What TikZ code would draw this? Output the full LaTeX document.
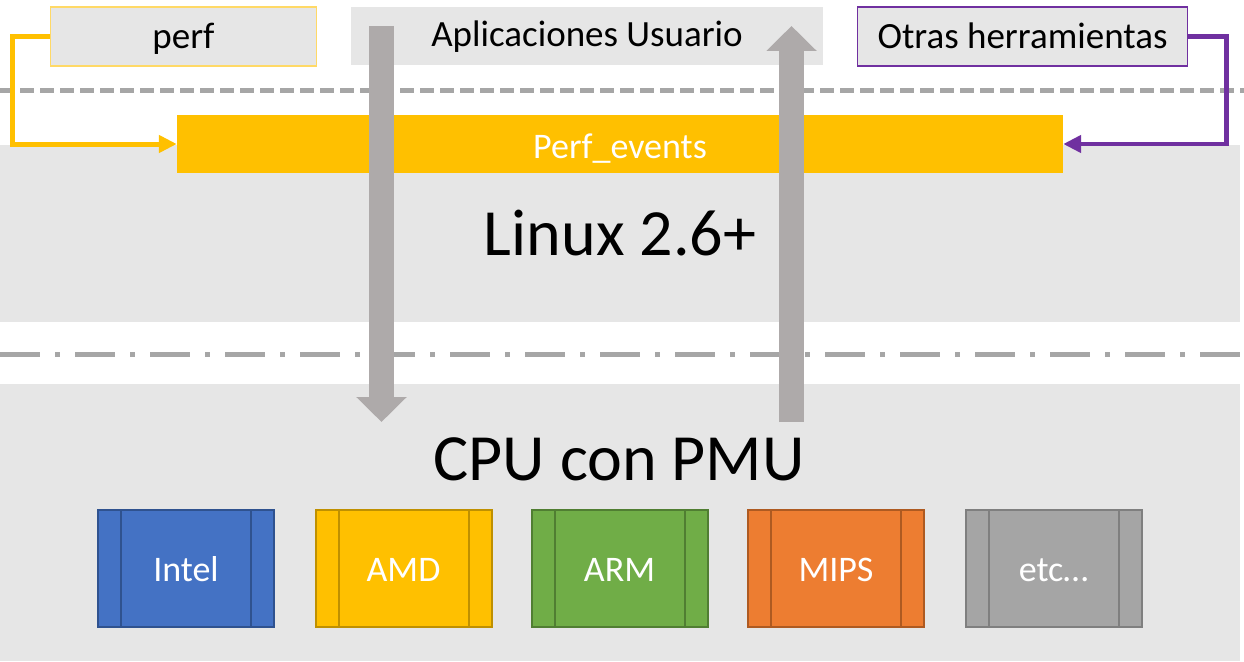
\documentclass[tikz,border=0pt]{standalone}
\usepackage{fontspec}
\setmainfont{Carlito}
\usetikzlibrary{arrows.meta}
\definecolor{bandgray}{HTML}{E6E6E6}
\definecolor{arrowgray}{HTML}{AEAAAA}
\definecolor{linegray}{HTML}{A6A6A6}
\definecolor{pyellow}{HTML}{FFC000}
\definecolor{pyellowlight}{HTML}{FFD966}
\definecolor{ppurple}{HTML}{7030A0}
\definecolor{intelfill}{HTML}{4472C4}
\definecolor{intelline}{HTML}{2F528F}
\definecolor{amdfill}{HTML}{FFC000}
\definecolor{amdline}{HTML}{BF9000}
\definecolor{armfill}{HTML}{70AD47}
\definecolor{armline}{HTML}{507E32}
\definecolor{mipsfill}{HTML}{ED7D31}
\definecolor{mipsline}{HTML}{AE5A21}
\definecolor{etcfill}{HTML}{A5A5A5}
\definecolor{etcline}{HTML}{7F7F7F}
\tikzset{
  topbox/.style={rectangle, fill=bandgray, inner sep=0pt, minimum height=59pt,
    font=\fontsize{37}{40}\selectfont, text height=33pt, text depth=9pt},
  kernelbar/.style={rectangle, fill=pyellow, inner sep=0pt, text=white,
    font=\fontsize{36}{40}\selectfont, text height=37pt, text depth=9pt},
  bigtext/.style={anchor=base, inner sep=0pt, font=\fontsize{66}{70}\selectfont},
  cpubox/.style={rectangle, draw=#1line, fill=#1fill, line width=2pt, inner sep=0pt,
    minimum width=176pt, minimum height=117pt, text=white,
    font=\fontsize{36}{40}\selectfont, text height=35.5pt, text depth=9pt,
    path picture={
      \draw[#1line, line width=2pt]
        ([xshift=23pt]path picture bounding box.north west) --
        ([xshift=23pt]path picture bounding box.south west);
      \draw[#1line, line width=2pt]
        ([xshift=-23pt]path picture bounding box.north east) --
        ([xshift=-23pt]path picture bounding box.south east);
    }},
  connector/.style={line width=5pt, -{Triangle[length=18pt, width=17pt]}},
  bigarrow/.style={arrowgray, line width=25pt, -{Triangle[length=25pt, width=49pt]}}
}
\begin{document}
\begin{tikzpicture}[x=1pt, y=-1pt]
\useasboundingbox (0,0) rectangle (1244,661);
\fill[white] (0,0) rectangle (1244,661);
% bands
\fill[bandgray] (0,145) rectangle (1240,322);
\fill[bandgray] (0,384) rectangle (1240,661);
% separator lines
\draw[linegray, line width=5pt, dash pattern=on 14pt off 6pt] (0,90) -- (1244,90);
\draw[linegray, line width=5pt, dash pattern=on 40pt off 15pt on 5pt off 15pt] (0,354) -- (1240,354);
% top boxes
\node[topbox, draw=pyellowlight, line width=1.5pt, minimum width=266pt] (perf) at (183.5,36.5) {perf};
\node[topbox, minimum width=472pt, minimum height=58pt, text height=30.5pt] (apps) at (587,36) {Aplicaciones Usuario};
\node[topbox, draw=ppurple, line width=1.5pt, minimum width=330pt] (otras) at (1022.5,36.5) {Otras herramientas};
% kernel bar
\node[kernelbar, minimum width=886pt, minimum height=58pt] (pe) at (620,144) {Perf\_events};
% connectors
\draw[connector, pyellow] (perf.west) -- ++(-37,0) |- (pe.west);
\draw[connector, ppurple, line width=4.5pt] (otras.east) -- ++(38,0) |- (pe.east);
% big arrows
\coordinate (downstart) at (381.5,26);
\coordinate (downend) at (381.5,422);
\coordinate (upstart) at (791.5,422);
\coordinate (upend) at (791.5,26);
\draw[bigarrow] (downstart) -- (downend);
\draw[bigarrow] (upstart) -- (upend);
% big labels
\node[bigtext] (linux) at (620,255) {Linux 2.6+};
\node[bigtext] (cpu) at (619,480) {CPU con PMU};
% cpu boxes
\node[cpubox=intel] (intel) at (186,568.5) {Intel};
\node[cpubox=amd] (amd) at (403.5,568.5) {AMD};
\node[cpubox=arm] (arm) at (619.5,568.5) {ARM};
\node[cpubox=mips] (mips) at (836,568.5) {MIPS};
\node[cpubox=etc] (etc) at (1053.5,568.5) {etc…};
\end{tikzpicture}
\end{document}
